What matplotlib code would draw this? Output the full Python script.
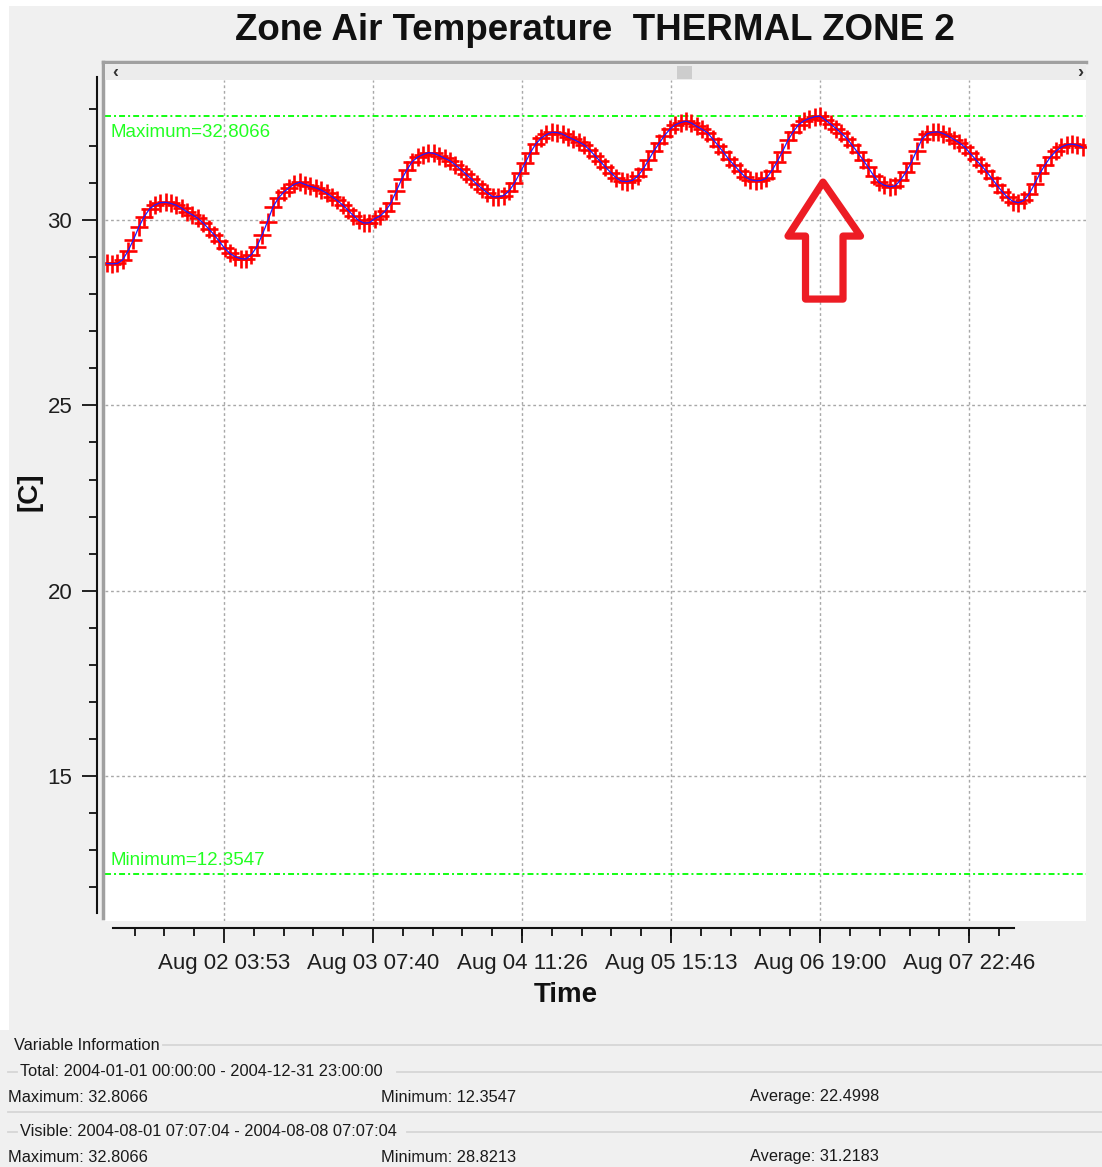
import numpy as np
import matplotlib
matplotlib.use("Agg")
import matplotlib.pyplot as plt
from matplotlib.patches import Rectangle, Polygon
from matplotlib.lines import Line2D
from matplotlib.ticker import FixedLocator
from matplotlib.transforms import IdentityTransform

plt.rcParams["font.family"] = ["Liberation Sans", "DejaVu Sans"]

W, H, DPI = 1102, 1167, 100

title = "Zone Air Temperature  THERMAL ZONE 2"
y_label = "[C]"
x_label = "Time"

# Hourly zone air temperature [C]; first sample at Aug 01 06:00
start_hour = 6
temps = [
    28.83, 28.8213, 28.83, 28.93, 29.17, 29.47, 29.81, 30.09, 30.30, 30.41,
    30.47, 30.48, 30.45, 30.40, 30.32, 30.22, 30.14, 30.05, 29.92, 29.77,
    29.61, 29.43, 29.24, 29.10, 29.01, 28.96, 28.95, 29.07, 29.28, 29.60,
    29.96, 30.35, 30.59, 30.75, 30.87, 30.97, 31.02, 30.96, 30.91, 30.87,
    30.81, 30.73, 30.63, 30.53, 30.41, 30.27, 30.12, 29.99, 29.92, 29.93,
    30.04, 30.11, 30.25, 30.46, 30.78, 31.10, 31.36, 31.58, 31.70, 31.77,
    31.82, 31.80, 31.74, 31.67, 31.60, 31.49, 31.37, 31.24, 31.11, 30.97,
    30.85, 30.73, 30.63, 30.63, 30.66, 30.78, 30.99, 31.26, 31.53, 31.82,
    32.05, 32.21, 32.31, 32.37, 32.36, 32.32, 32.24, 32.18, 32.11, 32.03,
    31.90, 31.74, 31.59, 31.43, 31.28, 31.14, 31.05, 31.04, 31.07, 31.18,
    31.37, 31.61, 31.86, 32.07, 32.28, 32.45, 32.57, 32.63, 32.67, 32.62,
    32.53, 32.45, 32.36, 32.19, 32.01, 31.83, 31.64, 31.48, 31.32, 31.17,
    31.09, 31.06, 31.07, 31.13, 31.33, 31.57, 31.85, 32.15, 32.38, 32.57,
    32.68, 32.74, 32.79, 32.8066, 32.70, 32.59, 32.47, 32.34, 32.20, 32.02,
    31.83, 31.63, 31.42, 31.20, 31.02, 30.94, 30.90, 30.92, 31.08, 31.29,
    31.55, 31.87, 32.18, 32.33, 32.37, 32.38, 32.33, 32.26, 32.17, 32.08,
    31.97, 31.80, 31.64, 31.48, 31.32, 31.13, 30.94, 30.76, 30.61, 30.50,
    30.47, 30.53, 30.71, 30.97, 31.26, 31.50, 31.71, 31.86, 31.97, 32.03,
    32.05, 32.02, 31.96,
]

x_tick_labels = ["Aug 02 03:53", "Aug 03 07:40", "Aug 04 11:26",
                 "Aug 05 15:13", "Aug 06 19:00", "Aug 07 22:46"]
y_major_ticks = [15, 20, 25, 30]

total_range = ("2004-01-01 00:00:00", "2004-12-31 23:00:00")
total_stats = (32.8066, 12.3547, 22.4998)      # max, min, average
visible_range = ("2004-08-01 07:07:04", "2004-08-08 07:07:04")
visible_stats = (32.8066, 28.8213, 31.2183)


def label_hours(lbl):
    """'Aug 02 03:53' -> hours since Aug 01 00:00."""
    _, day, hm = lbl.split()
    hh, mm = hm.split(":")
    return (int(day) - 1) * 24 + int(hh) + int(mm) / 60


def stamp_hours(stamp):
    """'2004-08-01 07:07:04' -> hours since Aug 01 00:00."""
    d, t = stamp.split()
    hh, mm, ss = (int(v) for v in t.split(":"))
    return (int(d.split("-")[2]) - 1) * 24 + hh + mm / 60 + ss / 3600


def fx(x):
    return x / W


def fy(y):
    return 1 - y / H


times = start_hour + np.arange(len(temps))
x_major = [label_hours(s) for s in x_tick_labels]
vis0, vis1 = stamp_hours(visible_range[0]), stamp_hours(visible_range[1])

fig = plt.figure(figsize=(W / DPI, H / DPI), dpi=DPI, facecolor="#f0f0f0")

# thin white outer margin
fig.patches.append(Rectangle((0, fy(1030)), fx(9), 1 - fy(1030), transform=fig.transFigure,
                             facecolor="white", edgecolor="none", zorder=0))
fig.patches.append(Rectangle((0, fy(6)), 1, fy(0) - fy(6), transform=fig.transFigure,
                             facecolor="white", edgecolor="none", zorder=0))

ax = fig.add_axes([fx(105), fy(921), (1086 - 105) / W, (921 - 80) / H])
ax.set_facecolor("white")
ax.set_xlim(vis0 - 1.42, vis1 + 13.47)
ax.set_ylim(11.09, 33.78)

# data: red plus markers with thin blue connecting line
ax.plot(times, temps, linestyle="none", marker="+", markersize=12.5, markeredgewidth=1.9,
        color="#ff0000", zorder=3)
ax.plot(times, temps, color="#1a1aff", linewidth=0.9, zorder=4)

# max / min reference lines
vmax, vmin = total_stats[0], total_stats[1]
dashdot = (0, (3.3, 1.7, 1.1, 1.7))
ax.axhline(vmax, color="#00ff00", linestyle=dashdot, linewidth=1.3, zorder=2)
ax.axhline(vmin, color="#00ff00", linestyle=dashdot, linewidth=1.3, zorder=2)
ax.annotate(f"Maximum={vmax}", xy=(0, vmax), xycoords=("axes fraction", "data"),
            xytext=(3.6, -5.5), textcoords="offset points", ha="left", va="top",
            fontsize=13.5, color="#22ff22")
ax.annotate(f"Minimum={vmin}", xy=(0, vmin), xycoords=("axes fraction", "data"),
            xytext=(3.6, 4.0), textcoords="offset points", ha="left", va="bottom",
            fontsize=13.5, color="#22ff22")

# axes, ticks and grid
for side in ("top", "right"):
    ax.spines[side].set_visible(False)
ax.spines["left"].set_position(("outward", 5.8))
ax.spines["left"].set_bounds(11.3, 33.86)
ax.spines["bottom"].set_position(("outward", 5.0))
ax.spines["bottom"].set_bounds(vis0, vis1)
for side in ("left", "bottom"):
    ax.spines[side].set_linewidth(1.5)
    ax.spines[side].set_color("#111111")

ax.yaxis.set_major_locator(FixedLocator(y_major_ticks))
ax.yaxis.set_minor_locator(FixedLocator(np.arange(12, 34, 1)))
ax.set_yticklabels([str(v) for v in y_major_ticks])

step = (x_major[1] - x_major[0]) / 5
minor = []
k = -1
while x_major[0] + k * step >= vis0:
    minor.append(x_major[0] + k * step)
    k -= 1
k = 1
while x_major[0] + k * step <= vis1:
    minor.append(x_major[0] + k * step)
    k += 1
ax.xaxis.set_major_locator(FixedLocator(x_major))
ax.xaxis.set_minor_locator(FixedLocator(minor))
ax.set_xticklabels(x_tick_labels)

ax.tick_params(axis="both", which="major", length=10.8, width=1.3, color="#111111",
               labelsize=16, labelcolor="#1e1e1e", pad=7)
ax.tick_params(axis="both", which="minor", length=6.0, width=1.3, color="#111111")
ax.grid(True, which="major", color="#a8a8a8", linestyle=(0, (2, 2)), linewidth=1.0, zorder=1)
ax.set_axisbelow(True)

# labels and title
fig.text(fx(566), fy(995), x_label, ha="center", va="center", fontsize=20, fontweight="bold",
         color="#111111")
fig.text(fx(29), fy(492), y_label, ha="center", va="center", rotation=90, fontsize=20,
         fontweight="bold", color="#111111")
fig.text(fx(595), fy(30), title, ha="center", va="center", fontsize=26.5, fontweight="bold",
         color="#111111")

# plot frame and scroll strip
frame_kw = dict(transform=fig.transFigure, color="#a0a0a0", linewidth=2.5, zorder=5)
fig.lines.append(Line2D([fx(103), fx(103)], [fy(62), fy(918)], **frame_kw))
fig.lines.append(Line2D([fx(103), fx(1086)], [fy(62), fy(62)], **frame_kw))
fig.patches.append(Rectangle((fx(105), fy(80)), (1086 - 105) / W, (80 - 64) / H,
                             transform=fig.transFigure, facecolor="#ececec",
                             edgecolor="none", zorder=5))
fig.patches.append(Rectangle((fx(677), fy(79)), 15 / W, 13 / H, transform=fig.transFigure,
                             facecolor="#cdcdcd", edgecolor="none", zorder=6))
fig.text(fx(115), fy(72), "\u2039", ha="center", va="center", fontsize=13,
         fontweight="bold", color="#333333", zorder=7)
fig.text(fx(1080), fy(72), "\u203a", ha="center", va="center", fontsize=13,
         fontweight="bold", color="#333333", zorder=7)

# outlined arrow pointing at the peak temperature
peak = int(np.argmax(temps))
px, py = ax.transData.transform((times[peak], temps[peak]))
outline = [(3, 66), (-32, 120), (-14.5, 120), (-14.5, 183), (23, 183), (23, 120), (40.5, 120)]
verts = [(px + dx, py - dy) for dx, dy in outline]
fig.patches.append(Polygon(verts, closed=True, transform=IdentityTransform(),
                           facecolor="none", edgecolor="#ed1c24", linewidth=5.2,
                           joinstyle="round", zorder=8))

# variable information panel
info_kw = dict(fontsize=11.8, color="#1a1a1a", va="center", ha="left")
sep_kw = dict(transform=fig.transFigure, color="#d6d6d6", linewidth=1.3)
fig.text(fx(14), fy(1045), "Variable Information", **info_kw)
fig.lines.append(Line2D([fx(163), fx(1102)], [fy(1045), fy(1045)], **sep_kw))
fig.text(fx(20), fy(1071), f"Total: {total_range[0]} - {total_range[1]}", **info_kw)
fig.lines.append(Line2D([fx(8), fx(17)], [fy(1071.5), fy(1071.5)], **sep_kw))
fig.lines.append(Line2D([fx(397), fx(1102)], [fy(1071.5), fy(1071.5)], **sep_kw))
fig.text(fx(8), fy(1097), f"Maximum: {total_stats[0]}", **info_kw)
fig.text(fx(381), fy(1097), f"Minimum: {total_stats[1]}", **info_kw)
fig.text(fx(750), fy(1097), f"Average: {total_stats[2]}", **info_kw)
fig.lines.append(Line2D([fx(8), fx(1102)], [fy(1112), fy(1112)], **sep_kw))
fig.text(fx(20), fy(1131), f"Visible: {visible_range[0]} - {visible_range[1]}", **info_kw)
fig.lines.append(Line2D([fx(8), fx(17)], [fy(1131.5), fy(1131.5)], **sep_kw))
fig.lines.append(Line2D([fx(407), fx(1102)], [fy(1131.5), fy(1131.5)], **sep_kw))
fig.text(fx(8), fy(1157), f"Maximum: {visible_stats[0]}", **info_kw)
fig.text(fx(381), fy(1157), f"Minimum: {visible_stats[1]}", **info_kw)
fig.text(fx(750), fy(1157), f"Average: {visible_stats[2]}", **info_kw)

fig.savefig("out.png", dpi=DPI, facecolor=fig.get_facecolor())
